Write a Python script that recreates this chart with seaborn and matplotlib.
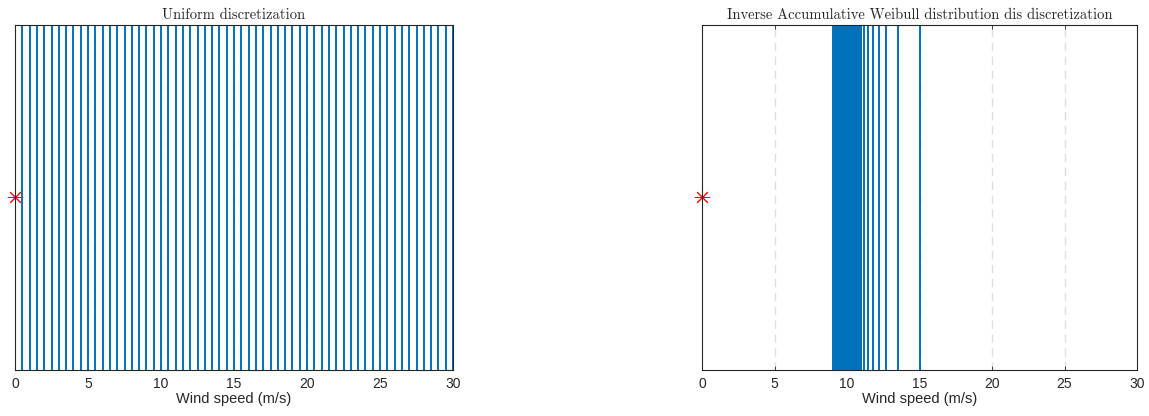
import matplotlib
matplotlib.use("Agg")
import matplotlib.pyplot as plt
import seaborn as sns

# ---- data ----
uniform_speeds = [0.0, 0.5, 1.0, 1.5, 2.0, 2.5, 3.0, 3.5, 4.0, 4.5,
                  5.0, 5.5, 6.0, 6.5, 7.0, 7.5, 8.0, 8.5, 9.0, 9.5,
                  10.0, 10.5, 11.0, 11.5, 12.0, 12.5, 13.0, 13.5, 14.0, 14.5,
                  15.0, 15.5, 16.0, 16.5, 17.0, 17.5, 18.0, 18.5, 19.0, 19.5,
                  20.0, 20.5, 21.0, 21.5, 22.0, 22.5, 23.0, 23.5, 24.0, 24.5,
                  25.0, 25.5, 26.0, 26.5, 27.0, 27.5, 28.0, 28.5, 29.0, 29.5,
                  30.0]
weibull_speeds = [0.0,
                  9.04, 9.09, 9.14, 9.19, 9.24, 9.28, 9.32, 9.37, 9.41, 9.45,
                  9.49, 9.53, 9.57, 9.61, 9.65, 9.69, 9.72, 9.76, 9.80, 9.84,
                  9.87, 9.91, 9.95, 9.98, 10.02, 10.06, 10.10, 10.13, 10.17, 10.21,
                  10.25, 10.29, 10.33, 10.37, 10.41, 10.45, 10.50, 10.54, 10.59, 10.64,
                  10.69, 10.74, 10.79, 10.84, 10.89, 10.94, 10.99,
                  11.19, 11.47, 11.77, 12.19, 12.69, 13.50, 15.00]
start_speed = [0.0]
start_level = [0.5]
x_ticks = [0, 5, 10, 15, 20, 25, 30]
titles = ["Uniform discretization",
          "Inverse Accumulative Weibull distribution dis discretization"]
xlabel = "Wind speed (m/s)"

# ---- style ----
sns.set_theme(style="white")
plt.rcParams["font.family"] = ["Liberation Sans", "DejaVu Sans"]
line_color = "#0072BD"
dark = "#262626"

fig = plt.figure(figsize=(11.49, 4.16), dpi=100)
ax_left = fig.add_axes([15 / 1149, 46 / 416, 438 / 1149, 345 / 416])
ax_right = fig.add_axes([702 / 1149, 46 / 416, 435 / 1149, 345 / 416])

for ax, speeds, title in [(ax_left, uniform_speeds, titles[0]),
                          (ax_right, weibull_speeds, titles[1])]:
    ax.set_xlim(0, 30)
    ax.set_ylim(0, 1)
    for g in x_ticks[1:-1]:
        ax.axvline(g, color="#dedede", lw=1.0, ls=(0, (6, 4)), zorder=0)
    sns.rugplot(x=speeds, height=1, ax=ax, color=line_color,
                linewidth=1.4, expand_margins=False, clip_on=True)
    ax.plot(start_speed, start_level, linestyle="none", marker=(8, 2, 0),
            markersize=11, markeredgewidth=0.7, color="red", zorder=5,
            clip_on=False)
    ax.set_xticks(x_ticks)
    ax.set_xticklabels([str(t) for t in x_ticks])
    ax.set_yticks([])
    ax.tick_params(axis="x", direction="in", length=3, width=0.6,
                   colors=dark, labelcolor=dark, labelsize=10, pad=5,
                   top=True, bottom=True)
    for s in ax.spines.values():
        s.set_visible(True)
        s.set_color(dark)
        s.set_linewidth(0.8)
        s.set_zorder(6)
    ax.set_xlabel(xlabel, fontsize=10.5, color=dark, labelpad=1)
    ax.set_title(title, fontfamily="cmr10", fontsize=10.5, color=dark, pad=4)

fig.savefig("out.png", dpi=100)
